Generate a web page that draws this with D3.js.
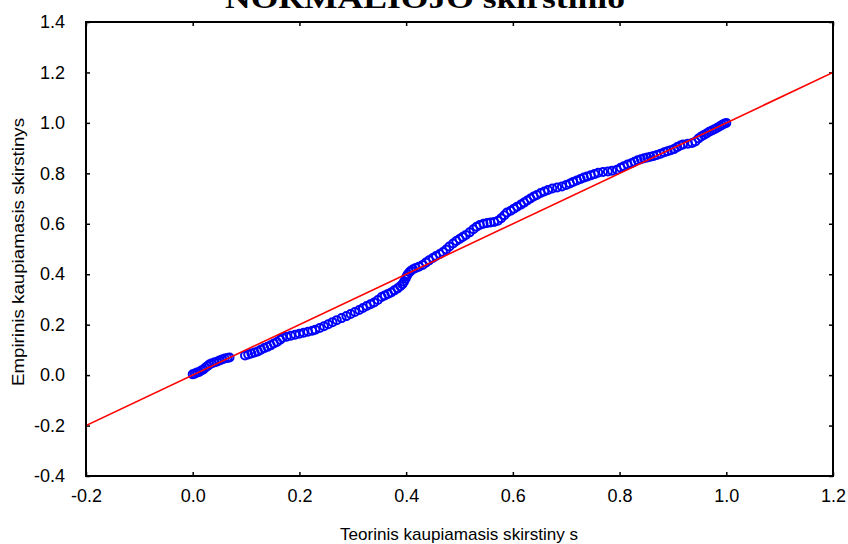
<!DOCTYPE html>
<html>
<head>
<meta charset="utf-8">
<script src="https://cdn.jsdelivr.net/npm/d3@7"></script>
<style>
  body { margin: 0; background: #fff; }
  svg { display: block; }
  text { font-family: "Liberation Sans", Arial, sans-serif; }
</style>
</head>
<body>
<svg id="draw" width="848" height="544"></svg>
<script>
let teorinis = [
    0.000, 0.004, 0.008, 0.012, 0.016, 0.020, 0.024, 0.028, 0.031, 0.035, 0.040, 0.045, 0.050, 0.055, 0.060, 0.065, 0.069,
    0.098, 0.104, 0.110, 0.116, 0.122, 0.128, 0.134, 0.140, 0.146, 0.152, 0.158, 0.164, 0.168, 0.176, 0.184, 0.192,
    0.200, 0.208, 0.216, 0.224, 0.230, 0.238, 0.246, 0.254, 0.262, 0.270, 0.279, 0.288, 0.296, 0.304,
    0.312, 0.319, 0.326, 0.333, 0.340, 0.347, 0.354, 0.360, 0.366, 0.372, 0.378, 0.384, 0.389, 0.393, 0.396, 0.399, 0.401, 0.403, 0.406, 0.409, 0.413, 0.418,
    0.424, 0.431, 0.437, 0.443, 0.450, 0.456, 0.463, 0.469, 0.475, 0.481, 0.488, 0.494, 0.500, 0.506, 0.512, 0.519,
    0.526, 0.532, 0.538, 0.545, 0.552, 0.558, 0.565, 0.572, 0.578, 0.584, 0.589, 0.596, 0.602, 0.608,
    0.615, 0.621, 0.627, 0.633, 0.639, 0.645, 0.652, 0.659, 0.666, 0.674, 0.683, 0.692, 0.700, 0.707, 0.713,
    0.720, 0.727, 0.733, 0.739, 0.746, 0.753, 0.760, 0.769, 0.778, 0.786, 0.795, 0.802, 0.808, 0.815, 0.822, 0.828,
    0.834, 0.840, 0.846, 0.852, 0.858, 0.864, 0.870, 0.877, 0.884, 0.890, 0.896, 0.902, 0.908, 0.914, 0.919, 0.928, 0.936,
    0.942, 0.948, 0.953, 0.958, 0.963, 0.968, 0.973, 0.978, 0.983, 0.988, 0.992, 0.996, 1.000
];
let empirinis = [
    0.003, 0.006, 0.010, 0.012, 0.018, 0.022, 0.030, 0.036, 0.042, 0.046, 0.050, 0.053, 0.058, 0.062, 0.066, 0.068, 0.070,
    0.078, 0.082, 0.086, 0.090, 0.094, 0.101, 0.107, 0.112, 0.118, 0.125, 0.131, 0.140, 0.148, 0.152, 0.156, 0.160,
    0.164, 0.168, 0.172, 0.176, 0.180, 0.187, 0.194, 0.202, 0.210, 0.218, 0.226, 0.234, 0.242, 0.250,
    0.258, 0.266, 0.274, 0.281, 0.288, 0.298, 0.310, 0.316, 0.322, 0.328, 0.336, 0.344, 0.352, 0.360, 0.370, 0.382, 0.392, 0.400, 0.408, 0.414, 0.420, 0.425,
    0.430, 0.437, 0.446, 0.455, 0.464, 0.472, 0.480, 0.488, 0.498, 0.510, 0.522, 0.532, 0.540, 0.548, 0.556, 0.566,
    0.578, 0.588, 0.595, 0.600, 0.603, 0.605, 0.607, 0.612, 0.622, 0.634, 0.645, 0.652, 0.660, 0.668,
    0.676, 0.684, 0.692, 0.700, 0.708, 0.714, 0.722, 0.728, 0.734, 0.740, 0.744, 0.748, 0.754, 0.760, 0.766,
    0.772, 0.778, 0.783, 0.787, 0.792, 0.797, 0.802, 0.805, 0.807, 0.810, 0.814, 0.822, 0.828, 0.835, 0.840, 0.846,
    0.852, 0.856, 0.860, 0.863, 0.866, 0.869, 0.873, 0.878, 0.884, 0.888, 0.892, 0.896, 0.904, 0.910, 0.914, 0.917, 0.920,
    0.926, 0.938, 0.946, 0.952, 0.958, 0.965, 0.970, 0.975, 0.981, 0.987, 0.992, 0.997, 1.000
];
let xTicks = [-0.2, 0.0, 0.2, 0.4, 0.6, 0.8, 1.0, 1.2];
let yTicks = [-0.4, -0.2, 0.0, 0.2, 0.4, 0.6, 0.8, 1.0, 1.2, 1.4];
let refLine = [[-0.2, -0.2], [1.2, 1.2]];

let svg = d3.select("#draw");
let plotL = 86, plotR = 833, plotT = 22, plotB = 476;

let x = d3.scaleLinear().domain([-0.2, 1.2]).range([plotL, plotR]);
let y = d3.scaleLinear().domain([-0.4, 1.4]).range([plotB, plotT]);
// plain hyphen for negatives, as in the original
let fmt = v => v.toFixed(1);

// title, only its lower part shows at the top edge
svg.append("text")
    .attr("x", 425)
    .attr("y", 8)
    .attr("text-anchor", "middle")
    .attr("textLength", 400)
    .attr("lengthAdjust", "spacingAndGlyphs")
    .style("font-family", "'Liberation Serif', 'Times New Roman', serif")
    .style("font-size", "30px")
    .style("font-weight", "bold")
    .text("NORMALIOJO skirstinio");

function styleAxis(g) {
    g.select(".domain").remove();
    g.selectAll("line").attr("stroke", "#000").attr("stroke-width", 1.5);
    g.selectAll("text").style("font-size", "18px").attr("fill", "#000");
}

svg.append("g")
    .attr("transform", "translate(0," + plotB + ")")
    .call(d3.axisBottom(x).tickValues(xTicks).tickFormat(fmt).tickSize(-4).tickPadding(13))
    .call(styleAxis);
svg.append("g")
    .attr("transform", "translate(0," + plotT + ")")
    .call(d3.axisTop(x).tickValues(xTicks).tickFormat("").tickSize(-4))
    .call(styleAxis);
svg.append("g")
    .attr("transform", "translate(" + plotL + ",0)")
    .call(d3.axisLeft(y).tickValues(yTicks).tickFormat(fmt).tickSize(-4).tickPadding(21))
    .call(styleAxis);
svg.append("g")
    .attr("transform", "translate(" + plotR + ",0)")
    .call(d3.axisRight(y).tickValues(yTicks).tickFormat("").tickSize(-4))
    .call(styleAxis);

svg.append("defs").append("clipPath").attr("id", "plot")
    .append("rect").attr("x", plotL).attr("y", plotT)
    .attr("width", plotR - plotL).attr("height", plotB - plotT);

svg.append("g")
    .selectAll("circle")
    .data(teorinis)
    .enter()
    .append("circle")
    .attr("cx", (d, i) => x(d))
    .attr("cy", (d, i) => y(empirinis[i]))
    .attr("r", 4)
    .attr("fill", "none")
    .attr("stroke", "#0000ff")
    .attr("stroke-width", 2);

svg.append("path")
    .datum(refLine)
    .attr("clip-path", "url(#plot)")
    .attr("d", d3.line().x(d => x(d[0])).y(d => y(d[1])))
    .attr("stroke", "#ff0000")
    .attr("stroke-width", 1.6)
    .attr("fill", "none");

svg.append("rect")
    .attr("x", plotL).attr("y", plotT)
    .attr("width", plotR - plotL).attr("height", plotB - plotT)
    .attr("fill", "none")
    .attr("stroke", "#000")
    .attr("stroke-width", 2);

svg.append("text")
    .attr("x", 459)
    .attr("y", 540)
    .attr("text-anchor", "middle")
    .attr("textLength", 238)
    .attr("lengthAdjust", "spacingAndGlyphs")
    .style("font-size", "17px")
    .text("Teorinis kaupiamasis skirstiny s");

svg.append("text")
    .attr("transform", "translate(24," + 252 + ") rotate(-90)")
    .attr("text-anchor", "middle")
    .attr("textLength", 268)
    .attr("lengthAdjust", "spacingAndGlyphs")
    .style("font-size", "17px")
    .text("Empirinis kaupiamasis skirstinys");
</script>
</body>
</html>
